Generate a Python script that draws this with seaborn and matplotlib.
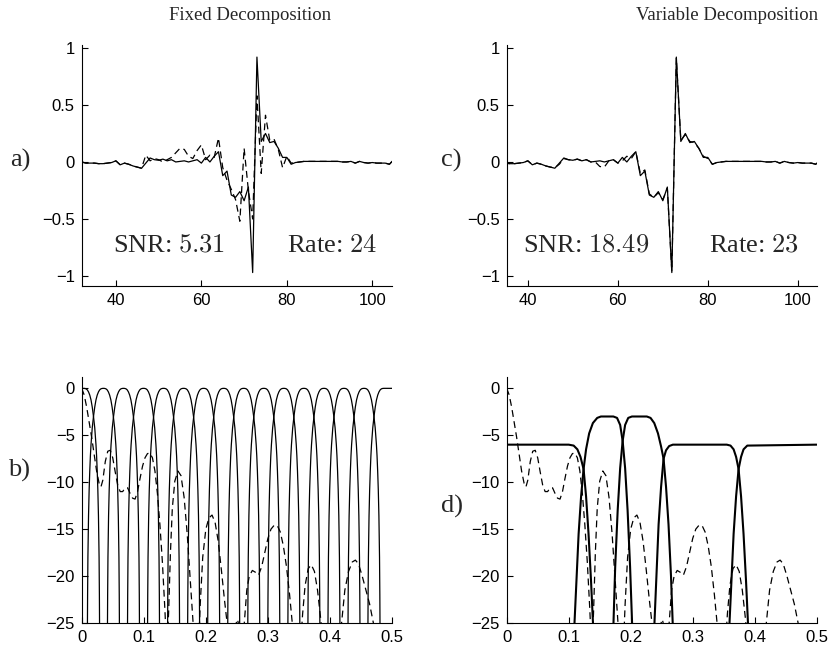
import numpy as np
import pandas as pd
import matplotlib
matplotlib.use("Agg")
import matplotlib.pyplot as plt
import seaborn as sns

# ---------------- data ----------------
sample_index = list(range(32, 106))

original_signal = [
    0.00, -0.01, -0.01, -0.01, -0.015, -0.015, -0.01, -0.005, 0.01, -0.025,
    -0.01, -0.02, -0.035, -0.045, -0.055, -0.01, 0.035, 0.02, 0.015, 0.025,
    0.01, 0.02, 0.0, 0.005, 0.01, 0.0, 0.01, 0.02, -0.01, 0.04,
    0.0, 0.05, 0.09, -0.12, -0.08, -0.29, -0.31, -0.26, -0.34, -0.22,
    -0.97, 0.92, 0.18, 0.25, 0.17, 0.18, 0.12, 0.04, 0.04, -0.02,
    -0.005, 0.0, 0.005, 0.005, 0.005, 0.005, 0.005, 0.005, 0.005, 0.005,
    0.005, 0.0, 0.0, 0.005, -0.01, 0.005, -0.005, -0.01, -0.005, -0.01,
    -0.01, -0.01, -0.02, 0.02,
]

fixed_reconstruction = [
    0.00, -0.01, -0.01, -0.01, -0.015, -0.015, -0.01, -0.005, 0.01, -0.025,
    -0.01, -0.02, -0.035, -0.045, -0.055, 0.06, 0.01, 0.03, 0.02, 0.0,
    0.02, 0.04, 0.08, 0.12, 0.11, 0.05, 0.03, 0.10, 0.15, 0.02,
    0.06, 0.04, 0.21, -0.05, -0.16, -0.24, -0.33, -0.52, 0.12, -0.25,
    -0.50, 0.58, -0.10, 0.41, 0.19, 0.20, 0.11, -0.05, 0.05, -0.01,
    -0.005, 0.0, 0.005, 0.005, 0.005, 0.005, 0.005, 0.005, 0.005, 0.005,
    0.005, 0.0, 0.0, 0.005, -0.01, 0.005, -0.005, -0.01, -0.005, -0.01,
    -0.01, -0.01, -0.02, 0.02,
]

variable_reconstruction = [
    0.00, -0.01, -0.01, -0.01, -0.015, -0.015, -0.01, -0.005, 0.01, -0.025,
    -0.01, -0.02, -0.035, -0.045, -0.05, -0.02, 0.03, 0.02, 0.015, 0.025,
    0.01, 0.02, 0.0, 0.0, -0.04, -0.045, 0.01, 0.02, -0.01, 0.01,
    0.05, 0.03, 0.09, -0.10, -0.07, -0.28, -0.31, -0.27, -0.33, -0.23,
    -0.96, 0.91, 0.19, 0.24, 0.18, 0.17, 0.12, 0.05, 0.03, -0.02,
    -0.005, 0.0, 0.005, 0.005, 0.005, 0.005, 0.005, 0.005, 0.005, 0.005,
    0.005, 0.0, 0.0, 0.005, -0.01, 0.005, -0.005, -0.01, -0.005, -0.01,
    -0.01, -0.01, -0.02, 0.02,
]

signal_xticks = [40, 60, 80, 100]
signal_xticklabels = ["40", "60", "80", "100"]
signal_yticks = [-1, -0.5, 0, 0.5, 1]
signal_yticklabels = ["\u22121", "\u22120.5", "0", "0.5", "1"]

freq_xticks = [0, 0.1, 0.2, 0.3, 0.4, 0.5]
freq_xticklabels = ["0", "0.1", "0.2", "0.3", "0.4", "0.5"]
freq_yticks = [-25, -20, -15, -10, -5, 0]
freq_yticklabels = ["\u221225", "\u221220", "\u221215", "\u221210", "\u22125", "0"]

titles = ["Fixed Decomposition", "Variable Decomposition"]
panel_labels = ["a)", "b)", "c)", "d)"]
snr_values = ["5.31", "18.49"]
rate_values = ["24", "23"]

# fixed (uniform) filter bank: channel centres, one arch profile (offset, dB);
# the first / last channel stay flat at 0 dB out to the band edges
fixed_centers = [0.003, 0.035, 0.0673, 0.0996, 0.1319, 0.1642, 0.1965, 0.2288,
                 0.2611, 0.2934, 0.3257, 0.358, 0.3903, 0.4226, 0.4549, 0.487]
band_edges = [0.0, 0.5]
arch_offset = [0, 0.002, 0.004, 0.006, 0.008, 0.010, 0.012, 0.014, 0.016,
               0.018, 0.020, 0.021, 0.022, 0.023, 0.024, 0.025, 0.0255, 0.026]
arch_db = [0, -0.01, -0.05, -0.16, -0.38, -0.72, -1.23, -2.0, -3.0,
           -4.2, -6.0, -7.2, -8.8, -10.8, -13.6, -18.0, -22.0, -28.0]

# variable filter bank responses (frequency, dB)
var_f1_freq = [0.0, 0.100, 0.108, 0.114, 0.119, 0.124, 0.128, 0.132, 0.136, 0.1395]
var_f1_db = [-6.0, -6.0, -6.1, -6.5, -7.3, -8.6, -11.5, -15.5, -20.5, -25.5]
var_f2_freq = [0.109, 0.1125, 0.116, 0.120, 0.124, 0.128, 0.133, 0.139, 0.146, 0.152,
               0.172, 0.178, 0.183, 0.187, 0.191, 0.195, 0.199, 0.2025]
var_f2_db = [-25.5, -20.5, -15.5, -11.5, -8.6, -6.5, -4.8, -3.7, -3.15, -3.0,
             -3.0, -3.15, -3.9, -5.6, -8.5, -13.0, -19.0, -25.5]
var_f3_freq = [0.172, 0.175, 0.179, 0.183, 0.187, 0.191, 0.196, 0.202, 0.226, 0.232,
               0.238, 0.244, 0.249, 0.253, 0.257, 0.261, 0.265, 0.268]
var_f3_db = [-25.5, -19.0, -13.0, -8.5, -5.6, -3.9, -3.15, -3.0, -3.0, -3.15,
             -3.7, -4.8, -6.2, -7.5, -10.5, -14.5, -20.0, -25.5]
var_f4_freq = [0.238, 0.2415, 0.245, 0.249, 0.253, 0.257, 0.262, 0.268, 0.355, 0.361,
               0.366, 0.370, 0.374, 0.378, 0.382, 0.386, 0.3895]
var_f4_db = [-25.5, -20.0, -14.5, -10.5, -7.5, -6.6, -6.15, -6.0, -6.0, -6.1,
             -6.5, -7.3, -8.6, -11.5, -15.5, -20.5, -25.5]
var_f5_freq = [0.359, 0.3625, 0.366, 0.370, 0.374, 0.378, 0.382, 0.388, 0.5]
var_f5_db = [-25.5, -20.5, -15.5, -11.5, -8.6, -7.3, -6.5, -6.1, -6.0]

# signal spectrum (dashed, same in both lower panels)
spectrum_freq = [0.000, 0.004, 0.008, 0.012, 0.016, 0.020, 0.024, 0.028, 0.031, 0.034,
                 0.038, 0.042, 0.046, 0.050, 0.054, 0.058, 0.062, 0.066, 0.070, 0.074,
                 0.078, 0.082, 0.086, 0.090, 0.094, 0.098, 0.102, 0.106, 0.110, 0.114,
                 0.118, 0.122, 0.126, 0.130, 0.134, 0.137, 0.140, 0.143, 0.146, 0.150,
                 0.155, 0.160, 0.165, 0.170, 0.175, 0.180, 0.184, 0.188, 0.191, 0.195,
                 0.200, 0.205, 0.210, 0.215, 0.220, 0.225, 0.230, 0.236, 0.242, 0.248,
                 0.251, 0.254, 0.258, 0.262, 0.266, 0.270, 0.275, 0.280, 0.285, 0.290,
                 0.295, 0.300, 0.305, 0.310, 0.315, 0.320, 0.325, 0.330, 0.335, 0.340,
                 0.346, 0.352, 0.356, 0.360, 0.365, 0.370, 0.375, 0.380, 0.385, 0.390,
                 0.400, 0.410, 0.418, 0.424, 0.430, 0.436, 0.441, 0.446, 0.452, 0.458,
                 0.464, 0.470, 0.476, 0.485, 0.500]
spectrum_db = [0.0, -0.7, -2.0, -3.6, -5.2, -7.0, -8.8, -10.1, -10.5, -9.8,
               -7.8, -6.7, -6.6, -7.4, -8.9, -10.3, -11.0, -11.0, -10.6, -10.6,
               -11.2, -11.7, -11.8, -11.0, -9.6, -8.3, -7.4, -6.95, -6.9, -7.4,
               -8.8, -11.2, -14.5, -18.5, -23.5, -28.0, -24.0, -17.5, -12.8, -9.9,
               -8.8, -9.3, -11.6, -15.5, -20.5, -25.5, -31.0, -28.0, -23.0, -18.0,
               -15.0, -13.8, -13.5, -14.3, -16.3, -19.3, -22.5, -26.0, -30.0, -25.2,
               -24.6, -25.5, -30.0, -25.0, -21.5, -20.0, -19.4, -19.6, -19.9, -19.0,
               -17.5, -16.0, -15.0, -14.6, -14.6, -15.3, -16.8, -19.0, -22.0, -25.5,
               -32.0, -28.0, -24.0, -21.0, -19.2, -18.8, -19.5, -21.5, -24.5, -28.0,
               -34.0, -30.0, -25.5, -21.5, -19.5, -18.5, -18.3, -18.7, -20.0, -21.5,
               -23.0, -25.0, -28.0, -33.0, -34.0]

# ---------------- figure ----------------
sns.set_style("ticks")
plt.rcParams["font.family"] = ["Liberation Sans", "DejaVu Sans"]
plt.rcParams["mathtext.fontset"] = "cm"

W, H = 835, 650
fig = plt.figure(figsize=(W / 100, H / 100), dpi=100)


def px_axes(left, top, right, bottom):
    return fig.add_axes([left / W, 1 - bottom / H, (right - left) / W, (bottom - top) / H])


ax_a = px_axes(81.7, 45, 392, 286)
ax_c = px_axes(506.7, 45, 816.7, 286)
ax_b = px_axes(81.7, 376.7, 392, 623)
ax_d = px_axes(506.7, 376.7, 816.7, 623)

LW = 0.9
DASH = (5.5, 3.5)


def solid(ax, x, y, lw=LW):
    sns.lineplot(x=x, y=y, ax=ax, color="black", linewidth=lw,
                 estimator=None, sort=False)


def dashed(ax, x, y, lw=LW):
    sns.lineplot(x=x, y=y, ax=ax, color="black", linewidth=lw,
                 estimator=None, sort=False, linestyle="--")
    ax.lines[-1].set_dashes(DASH)


def style(ax, xlim, ylim, xt, xtl, yt, ytl):
    ax.set_xlim(*xlim)
    ax.set_ylim(*ylim)
    ax.set_xticks(xt)
    ax.set_xticklabels(xtl)
    ax.set_yticks(yt)
    ax.set_yticklabels(ytl)
    ax.set_xlabel("")
    ax.set_ylabel("")
    sns.despine(ax=ax)
    for s in ("left", "bottom"):
        ax.spines[s].set_linewidth(0.8)
        ax.spines[s].set_color("black")
    ax.tick_params(direction="in", length=4, width=0.8, labelsize=12,
                   colors="black", pad=5)


# top panels: signals
solid(ax_a, sample_index, original_signal)
dashed(ax_a, sample_index, fixed_reconstruction)
style(ax_a, (32, 104.6), (-1.088, 1.026), signal_xticks, signal_xticklabels,
      signal_yticks, signal_yticklabels)

solid(ax_c, sample_index, original_signal)
dashed(ax_c, sample_index, variable_reconstruction)
style(ax_c, (35.3, 104.2), (-1.088, 1.026), signal_xticks, signal_xticklabels,
      signal_yticks, signal_yticklabels)

# bottom-left: uniform filter bank
rows = []
off = np.array(arch_offset)
dbv = np.array(arch_db)
n_ch = len(fixed_centers)
for k, c in enumerate(fixed_centers):
    left_x, left_y = list(c - off[::-1]), list(dbv[::-1])
    right_x, right_y = list(c + off[1:]), list(dbv[1:])
    if k == 0:
        left_x, left_y = [band_edges[0]], [0.0]
    if k == n_ch - 1:
        right_x, right_y = [band_edges[1]], [0.0]
    for xx, yy in zip(left_x + right_x, left_y + right_y):
        rows.append({"channel": k, "freq": xx, "db": yy})
bank = pd.DataFrame(rows)
sns.lineplot(data=bank, x="freq", y="db", units="channel", estimator=None,
             sort=False, color="black", linewidth=LW, ax=ax_b)
dashed(ax_b, spectrum_freq, spectrum_db)
style(ax_b, (0, 0.5), (-25, 1.24), freq_xticks, freq_xticklabels,
      freq_yticks, freq_yticklabels)

# bottom-right: variable filter bank
for fx, fy in [(var_f1_freq, var_f1_db), (var_f2_freq, var_f2_db),
               (var_f3_freq, var_f3_db), (var_f4_freq, var_f4_db),
               (var_f5_freq, var_f5_db)]:
    solid(ax_d, fx, fy, lw=1.5)
dashed(ax_d, spectrum_freq, spectrum_db)
style(ax_d, (0, 0.5), (-25, 1.24), freq_xticks, freq_xticklabels,
      freq_yticks, freq_yticklabels)

# texts
serif = "Liberation Serif"
fig.text(250 / W, 1 - 20 / H, titles[0], ha="center", va="baseline",
         family=serif, fontsize=13.5)
fig.text(727 / W, 1 - 20 / H, titles[1], ha="center", va="baseline",
         family=serif, fontsize=13.5)

for lab, (lx, ly) in zip(panel_labels, [(10, 167), (8, 477), (441, 167), (441, 513)]):
    fig.text(lx / W, 1 - ly / H, lab, ha="left", va="baseline",
             family=serif, fontsize=19)

for (sx, rx), snr, rate in zip([(113, 287), (523, 709)], snr_values, rate_values):
    fig.text(sx / W, 1 - 251.7 / H, "SNR: $" + snr + "$", ha="left",
             va="baseline", family=serif, fontsize=19)
    fig.text(rx / W, 1 - 251.7 / H, "Rate: $" + rate + "$", ha="left",
             va="baseline", family=serif, fontsize=19)

fig.savefig("out.png", dpi=100)
